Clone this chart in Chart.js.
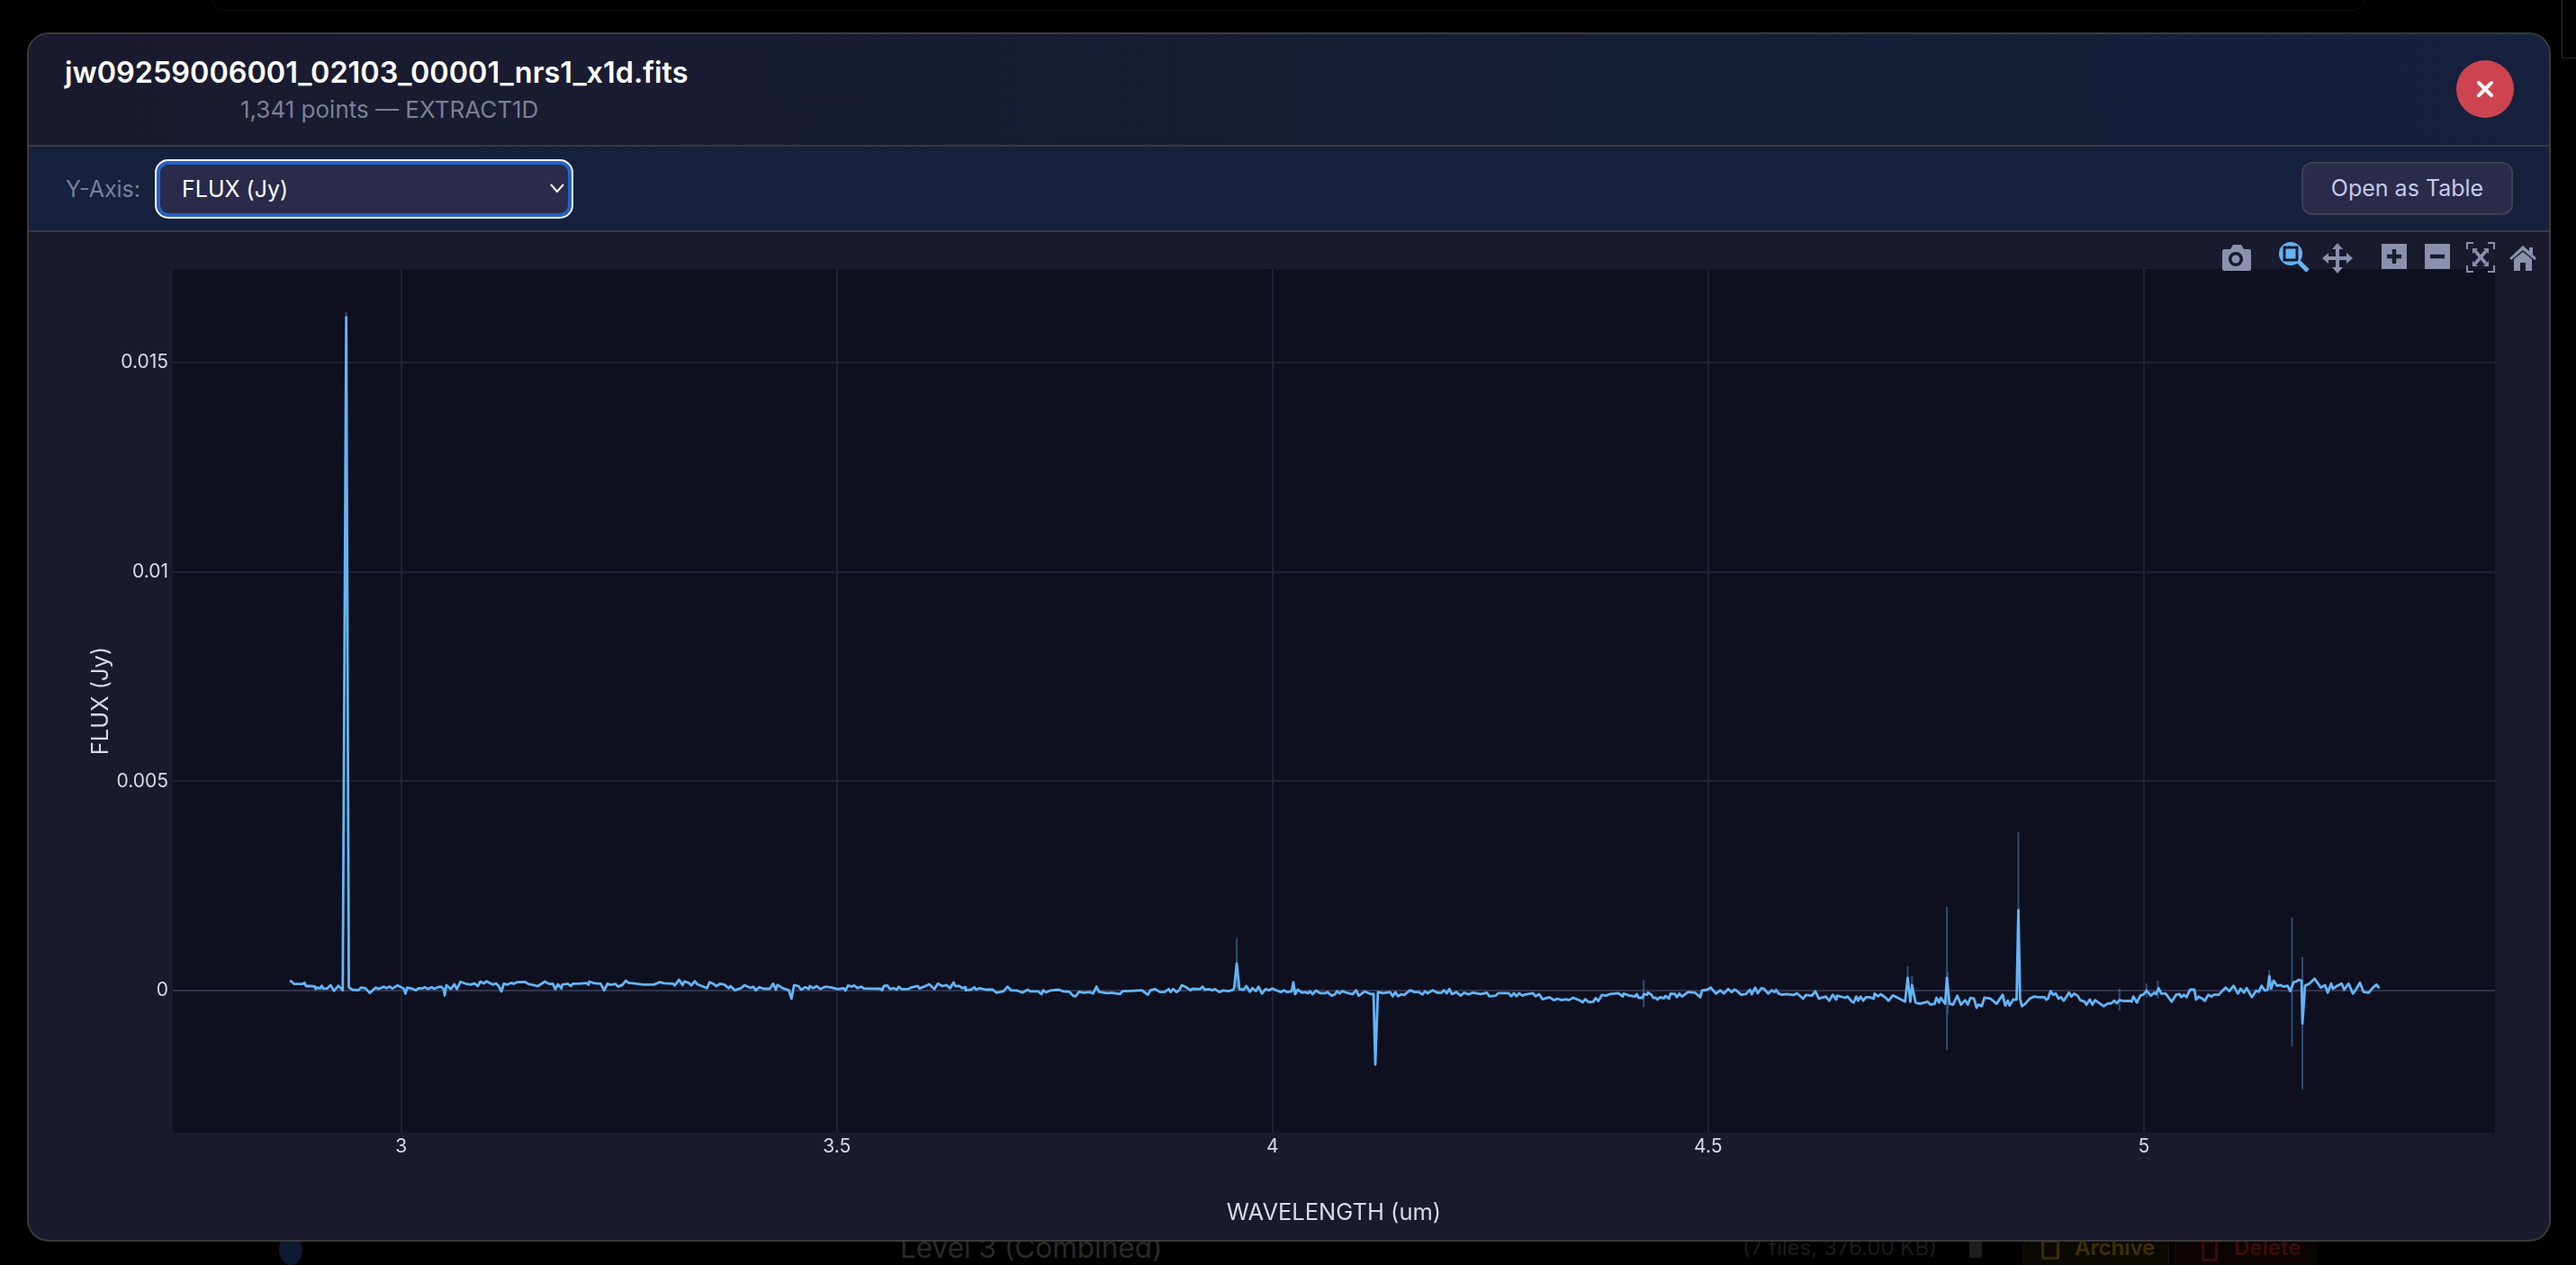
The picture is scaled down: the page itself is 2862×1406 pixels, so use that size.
<!DOCTYPE html>
<html>
<head>
<meta charset="utf-8">
<title>jw09259006001_02103_00001_nrs1_x1d.fits</title>
<script src="https://cdn.jsdelivr.net/npm/chart.js@4"></script>
<style>
  * { box-sizing: border-box; }
  html, body { margin: 0; height: 100%; background: #000; overflow: hidden; font-family: Inter, "Noto Sans", sans-serif; }
  .abs { position: absolute; white-space: nowrap; }

  /* dimmed page behind the modal */
  .behind-card { position: absolute; left: 235px; top: -40px; width: 2393px; height: 52px; border: 1px solid #0f0f0f; border-radius: 14px; }
  .behind-box { position: absolute; left: 2846px; top: -4px; width: 40px; height: 69px; border: 1px solid #2a2a2a; }
  .behind-text { color: #2a2a2a; font-size: 31.5px; }
  .behind-meta { color: #1d1d1d; font-size: 24px; }
  .behind-btn { position: absolute; top: 1376px; height: 50px; border-radius: 8px; }

  .modal { position: absolute; left: 30px; top: 36px; width: 2804px; height: 1344px; background: #1a1a2e; border: 2px solid #3a3a3a; border-radius: 24px; overflow: hidden; }
  .header { position: absolute; left: 0; top: 0; right: 0; height: 125px; background: linear-gradient(90deg, #1a1a2e, #16213e); border-bottom: 2px solid #3a3a3a; }
  .toolbar { position: absolute; left: 0; top: 125px; right: 0; height: 95px; background: #16213e; border-bottom: 2px solid #3a3a3a; }
  .title { left: 40px; top: 23px; color: #fff; font-size: 32.4px; font-weight: 600; }
  .subtitle { left: 235px; top: 68px; color: #7a7f9a; font-size: 26px; }
  .label { left: 41px; top: 32px; color: #7a7f9a; font-size: 25px; }
  .select { position: absolute; left: 142px; top: 16px; width: 461px; height: 62px; background: #2a2a4a; border: 4px solid #2563c7; border-radius: 13px; outline: 2px solid #fff; outline-offset: 0; color: #fff; font-size: 25px; line-height: 54px; padding-left: 24px; }
  .select svg { position: absolute; right: 3px; top: 17px; }
  .table-btn { position: absolute; left: 2525px; top: 17px; width: 235px; height: 59px; background: #2a2a4a; border: 2px solid #3f3f4f; border-radius: 12px; color: #c5cae9; font-size: 25px; line-height: 55px; text-align: center; }
  .close { position: absolute; left: 2697px; top: 29px; width: 64px; height: 64px; border-radius: 50%; background: #cc444f; }
  .close svg { position: absolute; left: 21px; top: 21px; }
  #spectrum { position: absolute; left: 0; top: 222px; }
  .mode { position: absolute; }
</style>
</head>
<body>
<div class="behind-card"></div>
<div class="behind-box"></div>
<div class="behind-btn" style="left:2248px;width:162px;background:#0c0900;border:1px solid #1c1500"></div>
<div class="behind-btn" style="left:2416px;width:157px;background:#0c0303;border:1px solid #1c0707"></div>
<div class="abs behind-text" style="left:1000px;top:1367px">Level 3 (Combined)</div>
<div class="abs behind-meta" style="left:1936px;top:1372px">(7 files, 376.00 KB)</div>
<div class="abs" style="left:2188px;top:1378px;width:14px;height:20px;background:#1d1d1d;border-radius:3px"></div>
<div class="abs" style="left:2268px;top:1378px;width:20px;height:22px;border:3px solid #3a2c00;border-radius:3px"></div>
<div class="abs behind-meta" style="left:2305px;top:1372px;color:#3f3000;font-weight:600">Archive</div>
<div class="abs" style="left:2446px;top:1378px;width:18px;height:24px;border:3px solid #3a0a0a;border-radius:3px"></div>
<div class="abs behind-meta" style="left:2482px;top:1372px;color:#3f0c0c;font-weight:600">Delete</div>
<div class="abs" style="left:310px;top:1372px;width:26px;height:34px;border-radius:50%;background:#0c1a33"></div>

<div class="modal">
  <div class="header">
    <div class="abs title">jw09259006001_02103_00001_nrs1_x1d.fits</div>
    <div class="abs subtitle">1,341 points — EXTRACT1D</div>
    <div class="close"><svg width="22" height="22" viewBox="0 0 22 22"><path d="M4 4 L18 18 M18 4 L4 18" stroke="#fff" stroke-width="4" stroke-linecap="round"/></svg></div>
  </div>
  <div class="toolbar">
    <div class="abs label">Y-Axis:</div>
    <div class="select">FLUX (Jy)<svg width="18" height="18" viewBox="0 0 18 18"><path d="M2 5 L9 13 L16 5" fill="none" stroke="#fff" stroke-width="2"/></svg></div>
    <div class="table-btn">Open as Table</div>
  </div>
  <canvas id="spectrum" width="2800" height="1120"></canvas>
  <!-- plotly style modebar -->
  <svg class="mode" style="left:2436px;top:234px" width="34" height="30" viewBox="0 0 34 30"><path d="M3 5 H10 L13 0 H22 L25 5 H31 Q33 5 33 8 V26 Q33 29 31 29 H3 Q1 29 1 26 V8 Q1 5 3 5Z" fill="#8a90ad"/><circle cx="16" cy="16" r="8" fill="#1a1a2e"/><circle cx="16" cy="16" r="4.5" fill="#8a90ad"/></svg>
  <svg class="mode" style="left:2500px;top:231px" width="34" height="34" viewBox="0 0 34 34"><circle cx="13" cy="13" r="13" fill="#64b5f6"/><rect x="6" y="6" width="14" height="14" fill="#64b5f6" stroke="#1a1a2e" stroke-width="3"/><path d="M21 21 L32 32" stroke="#64b5f6" stroke-width="5"/></svg>
  <svg class="mode" style="left:2548px;top:232px" width="34" height="34" viewBox="0 0 34 34"><path d="M17 0 L23 7 H19 V15 H27 V11 L34 17 L27 23 V19 H19 V27 H23 L17 34 L11 27 H15 V19 H7 V23 L0 17 L7 11 V15 H15 V7 H11Z" fill="#8a90ad"/></svg>
  <svg class="mode" style="left:2614px;top:233px" width="28" height="28" viewBox="0 0 28 28"><rect width="28" height="28" fill="#8a90ad"/><path d="M14 6 V22 M6 14 H22" stroke="#1a1a2e" stroke-width="4.5"/></svg>
  <svg class="mode" style="left:2662px;top:233px" width="28" height="28" viewBox="0 0 28 28"><rect width="28" height="28" fill="#8a90ad"/><path d="M6 14 H22" stroke="#1a1a2e" stroke-width="4.5"/></svg>
  <svg class="mode" style="left:2708px;top:231px" width="32" height="34" viewBox="0 0 32 34"><path d="M8 1 H1 V8 M24 1 H31 V8 M1 26 V33 H8 M31 26 V33 H24" fill="none" stroke="#8a90ad" stroke-width="2"/><path d="M10 10 L22 24 M22 10 L10 24" stroke="#8a90ad" stroke-width="3.5"/><path d="M7 7 H13 L7 13Z M25 7 H19 L25 13Z M7 27 H13 L7 21Z M25 27 H19 L25 21Z" fill="#8a90ad"/></svg>
  <svg class="mode" style="left:2756px;top:235px" width="30" height="28" viewBox="0 0 30 28"><path d="M15 0 L22 6 V2 H26 V10 L30 14 L28 16 L15 5 L2 16 L0 14Z" fill="#8a90ad"/><path d="M5 15 L15 7 L25 15 V28 H18 V19 H12 V28 H5Z" fill="#8a90ad"/></svg>
</div>

<script>
/* ---------- Values ---------- */

// wavelength of each sampled point, in nm (axis is in um)
const wavelengthNm = [
  2872,2874,2877,2881,2887,2889,2891,2896,2901,2902,2904,2907,2909,2911,2915,2919,2923,2928,2933,2937,2940,2944,2951,2954,2959,2964,2971,2974,2980,2983,
  2987,2990,2996,3003,3005,3007,3013,3017,3020,3024,3027,3031,3035,3038,3043,3046,3049,3050,3052,3057,3061,3064,3068,3074,3080,3084,3088,3091,3095,3098,
  3105,3109,3112,3115,3118,3122,3127,3129,3133,3142,3146,3157,3165,3170,3174,3177,3180,3184,3185,3191,3195,3197,3204,3213,3215,3216,3222,3229,3233,3237,
  3240,3246,3249,3254,3258,3261,3270,3278,3290,3297,3302,3312,3314,3319,3323,3325,3330,3333,3337,3340,3351,3354,3358,3362,
  3366,3371,3376,3378,3383,3390,3394,3401,3404,3407,3411,3416,3423,3427,3430,3432,3438,3445,3448,3451,3456,3459,3464,3468,3469,3473,3477,3481,3487,3494,
  3501,3508,3510,3513,3517,3520,3524,3528,3531,3550,3552,3554,3558,3561,3565,3569,3571,3574,3582,3586,3593,3595,3600,3606,3612,3616,3621,3626,3630,3634,
  3636,3641,3644,3647,3648,3654,3658,3660,3664,3671,3679,3683,3691,3696,3700,3707,3713,3719,3722,3731,3735,3737,3740,3745,3755,3760,3767,3771,3774,3778,
  3784,3790,3794,3798,3801,3810,3815,3825,3828,3834,3850,3857,3860,3865,3871,3876,3881,
  3883,3886,3890,3893,3896,3901,3906,3908,3917,3920,3922,3927,3931,3934,3939,3943,3950,3955,3956,3959,3962,3967,3970,3974,3977,3981,3984,3988,3992,3996,
  4000,4005,4010,4013,4017,4022,4024,4026,4029,4034,4037,4041,4043,4046,4050,4055,4061,4063,4068,4072,4074,4077,4080,4087,4092,4096,4099,4106,4113,4116,
  4118,4121,4127,4135,4138,4141,4144,4148,4151,4158,4163,4168,4172,4175,4178,4184,4189,4194,4197,4200,4203,4206,4211,4216,4220,4225,4230,4239,4246,4249,
  4256,4259,4271,4274,4277,4280,4283,4287,4290,4299,4302,4306,4310,4318,4323,4327,4332,4337,4340,4345,4352,4356,4359,4363,4368,4371,4374,4378,4383,
  4387,4392,4397,4402,4403,4409,4416,4418,4420,4425,4426,4430,4431,4435,4437,4440,4442,4445,4449,4451,4455,4457,4462,4464,4467,4470,4477,4485,4491,4493,
  4499,4503,4509,4514,4518,4523,4527,4530,4532,4538,4543,4548,4550,4554,4557,4561,4564,4569,4573,4576,4578,4581,4585,4590,4598,4602,4609,4612,4619,4623,
  4627,4635,4639,4643,4647,4648,4657,4660,4665,4667,4670,4672,4675,4678,4681,4685,4690,4691,4695,4698,4703,4707,4712,4724,4726,4729,4732,4734,4738,4743,
  4752,4755,4760,4762,4765,4767,4772,4774,4777,4781,4786,4790,4795,4798,4801,4805,4808,4810,4814,4817,4824,4831,4838,4841,4844,4846,4850,4854,
  4856,4858,4860,4864,4869,4874,4879,4886,4888,4890,4893,4896,4899,4902,4905,4908,4912,4914,4917,4920,4924,4927,4932,4934,4938,4941,4944,4948,4954,4958,
  4963,4966,4969,4972,4977,4984,4986,4988,4992,4996,5000,5003,5008,5012,5014,5017,5020,5025,5032,5037,5041,5043,5046,5049,5053,5058,5060,5063,5067,5070,
  5074,5078,5080,5086,5089,5094,5098,5103,5108,5111,5115,5118,5124,5129,5132,5135,5139,5142,5144,5146,5149,5153,5157,5160,5165,5168,5172,5175,5178,5181,
  5182,5185,5190,5196,5203,5208,5211,5215,5217,5222,5227,5230,5235,5240,5244,5248,5252,5258,5263,5267,5270
];

// flux of each sampled point, in micro Jy
const fluxMicroJy = [
  222,222,158,158,158,186,107,107,100,36,72,50,115,43,50,129,-7,115,7,16080,79,21,7,72,57,-57,72,36,93,57,
  93,50,122,50,-72,72,43,7,57,50,79,36,79,43,86,93,29,-115,129,36,150,36,208,165,143,172,107,215,172,222,
  143,172,107,-21,165,143,186,158,200,208,158,107,215,158,165,36,150,50,143,165,107,165,165,179,136,215,172,165,7,165,
  136,158,93,136,236,186,165,143,143,200,172,165,122,258,129,215,186,122,222,150,57,200,165,107,
  165,143,57,107,7,57,129,64,93,7,79,43,43,165,21,136,57,7,-193,129,107,21,79,36,107,57,107,36,93,72,
  36,57,0,122,93,122,57,93,50,43,7,107,122,36,57,21,93,36,36,79,107,50,93,150,36,165,107,129,57,193,
  107,107,57,79,7,21,79,21,57,21,21,-50,-21,93,7,0,-50,21,-21,-21,-86,7,-43,0,21,-21,-29,-122,-136,-29,
  -50,-36,-72,93,-29,-64,-50,-86,-14,-14,7,-100,7,36,-36,-36,36,
  -36,36,-36,7,129,79,7,43,36,93,21,36,7,36,-36,0,-14,21,57,644,36,21,107,-29,57,-14,93,-72,36,7,
  50,0,-36,7,-36,-21,200,-86,21,-50,-36,-64,-14,-86,0,-64,-64,-36,-122,-86,-14,-72,-14,-64,-86,7,-122,-21,-86,-79,
  -1769,-36,-64,-36,-136,-36,-136,-86,-107,7,-36,-36,-93,-21,-64,7,-50,-50,7,-64,36,-86,-36,-122,-50,-93,-50,-86,-50,-136,
  -122,-64,-64,-136,-64,-136,-64,-122,-93,-64,-136,-86,-208,-158,-229,-193,-229,-208,-229,-172,-229,-279,-208,-279,-265,-179,-251,-107,-122,
  -86,-72,-64,-143,-72,-115,-143,-86,-172,-172,-86,-100,-50,-100,-172,-172,-215,-158,-186,-129,-193,-72,-86,-158,-72,-143,-36,-50,-158,0,
  21,72,-72,7,-72,36,-36,21,7,-100,-86,21,-86,72,-64,57,43,-72,7,-36,14,-72,-100,-86,-107,-64,-193,-107,-122,-14,
  -193,-143,-243,-100,-215,-122,-172,-143,-265,-286,-143,-243,-143,-243,-158,-158,-193,-72,-136,-86,-158,-243,-115,-243,-265,301,-265,129,-286,-315,
  -265,-336,-315,-172,-286,-172,-315,301,-315,-336,-122,-336,-229,-336,-172,-193,-408,-336,-372,-172,-193,-315,-100,-358,-243,-358,-215,-215,
  1920,-193,-372,-315,-193,-143,-158,-158,-215,-193,-14,-100,-72,-193,-158,-243,-122,-50,-143,-72,-122,-229,-265,-337,-215,-337,-229,-286,-372,-315,
  -301,-243,-301,-229,-251,-243,-265,-143,-286,-122,-86,0,-122,-50,-86,57,-72,-72,-265,-100,-86,-158,-100,-158,21,21,-215,-143,-193,-243,
  -100,-143,-100,-100,-29,72,-14,115,-72,43,-50,57,-158,0,-29,115,0,21,344,43,236,115,129,93,115,-14,200,215,258,236,
  -788,115,165,286,72,129,-50,165,43,115,165,21,165,-72,43,186,-29,-50,72,143,57
];

// the long faint error bars (nm, high, low in micro Jy)
const errorWavelengthNm = [2937,3798,3959,4426,4729,4734,4774,4775,4856,4972,5003,5016,5144,5170,5182];
const errorHighMicroJy = [16200,129,1250,260,580,344,2000,451,3780,43,172,236,490,1740,800];
const errorLowMicroJy = [15960,0,40,-390,30,-90,-1420,-559,60,-473,-170,-193,200,-1330,-2360];

const xTicks = [3, 3.5, 4, 4.5, 5];
const yTicks = [0, 0.005, 0.01, 0.015];
const yTickLabels = ['0', '0.005', '0.01', '0.015'];

/* ---------- Build datasets ---------- */
const spectrumPoints = wavelengthNm.map((nm, i) => ({ x: nm / 1000, y: fluxMicroJy[i] / 1e6 }));

const errorPoints = [];
errorWavelengthNm.forEach((nm, i) => {
    errorPoints.push({ x: nm / 1000, y: errorLowMicroJy[i] / 1e6 });
    errorPoints.push({ x: nm / 1000, y: errorHighMicroJy[i] / 1e6 });
    errorPoints.push({ x: nm / 1000, y: null }); // break between bars
});

// plot background, plotly style
const plotBackground = {
    id: 'plotBackground',
    beforeDraw(chart) {
        const { ctx, chartArea: a } = chart;
        ctx.save();
        ctx.fillStyle = '#0e1020';
        ctx.fillRect(a.left, a.top, a.width, a.height);
        ctx.restore();
    }
};

new Chart(document.getElementById('spectrum'), {
    type: 'scatter',
    plugins: [plotBackground],
    data: {
        datasets: [{
            label: 'FLUX (Jy)',
            data: spectrumPoints,
            showLine: true,
            borderColor: '#64b5f6',
            borderWidth: 2.8,
            borderJoinStyle: 'round',
            pointRadius: 0,
            tension: 0,
            order: 1
        }, {
            label: 'error',
            data: errorPoints,
            showLine: true,
            spanGaps: false,
            borderColor: 'rgba(100,181,246,0.38)',
            borderWidth: 2,
            pointRadius: 0,
            order: 2
        }]
    },
    options: {
        responsive: false,
        animation: false,
        layout: { padding: { top: 39, right: 60, left: 0, bottom: 0 } },
        plugins: { legend: { display: false }, tooltip: { enabled: false } },
        scales: {
            x: {
                type: 'linear',
                min: 2.738,
                max: 5.403,
                afterBuildTicks: axis => { axis.ticks = xTicks.map(v => ({ value: v })); },
                afterFit: axis => { axis.height = 121; },
                ticks: { color: '#d8dae6', font: { size: 21, family: 'Inter' }, padding: 3, maxRotation: 0, autoSkip: false,
                    callback: v => String(v) },
                grid: { color: '#1f2235', lineWidth: 2, drawTicks: false },
                border: { display: false },
                title: { display: true, text: 'WAVELENGTH (um)', color: '#d8dae6', font: { size: 25.5, family: 'Inter' }, padding: { top: 16, bottom: 16 } }
            },
            y: {
                min: -0.003395,
                max: 0.01723,
                afterBuildTicks: axis => { axis.ticks = yTicks.map(v => ({ value: v })); },
                afterFit: axis => { axis.width = 160; },
                ticks: { color: '#d8dae6', font: { size: 21, family: 'Inter' }, padding: 5, autoSkip: false,
                    callback: v => yTickLabels[yTicks.indexOf(v)] },
                grid: {
                    color: ctx => (ctx.tick && ctx.tick.value === 0 ? '#31344c' : '#1f2235'),
                    lineWidth: 2,
                    drawTicks: false
                },
                border: { display: false },
                title: { display: true, text: 'FLUX (Jy)', color: '#d8dae6', font: { size: 25.5, family: 'Inter' }, padding: { top: 65, bottom: 65 } }
            }
        }
    }
});
</script>
</body>
</html>
